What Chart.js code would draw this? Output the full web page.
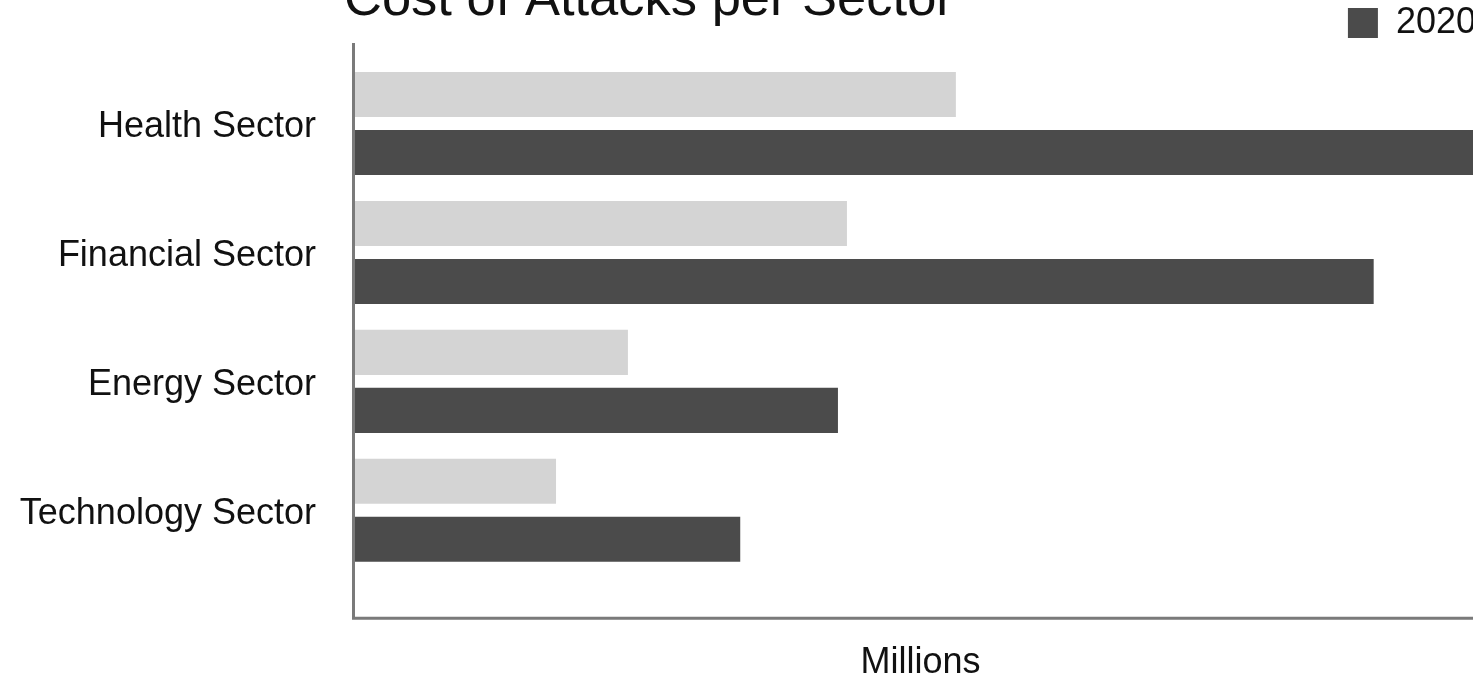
<!DOCTYPE html>
<html>
<head>
<meta charset="utf-8">
<script src="https://cdn.jsdelivr.net/npm/chart.js"></script>
<style>
  html, body { margin: 0; padding: 0; background: #fff; overflow: hidden; }
  #wrap { position: relative; width: 1473px; height: 692px; overflow: hidden; }
  #box { position: absolute; left: 0; top: -5px; width: 1486px; height: 697px; }
</style>
</head>
<body>
<div id="wrap"><div id="box"><canvas id="chart"></canvas></div></div>
<script>
// data
const sectors = ['Health Sector', 'Financial Sector', 'Energy Sector', 'Technology Sector'];
const values2019 = [5.35, 4.38, 2.43, 1.79];
const values2020 = [10.0, 9.07, 4.30, 3.43];
const seriesLabels = ['2019', '2020'];
const chartTitle = 'Cost of Attacks per Sector';
const axisTitle = 'Millions';

const FONT = '"Liberation Sans", Arial, Helvetica, sans-serif';
const lightGrey = '#d4d4d4';
const darkGrey = '#4b4b4b';
const axisGrey = '#7a7a7a';

// title + long axis lines drawn by hand
const decor = {
  id: 'decor',
  beforeDatasetsDraw(chart) {
    const ctx = chart.ctx;
    const a = chart.chartArea;
    ctx.save();
    ctx.strokeStyle = axisGrey;
    ctx.lineWidth = 3;
    ctx.beginPath();
    ctx.moveTo(a.left - 1.5, a.top - 16);
    ctx.lineTo(a.left - 1.5, a.bottom + 45);
    ctx.moveTo(a.left - 3, a.bottom + 43.5);
    ctx.lineTo(chart.width, a.bottom + 43.5);
    ctx.stroke();
    ctx.restore();
  },
  afterDraw(chart) {
    const ctx = chart.ctx;
    ctx.save();
    ctx.fillStyle = '#111';
    ctx.font = '52.5px ' + FONT;
    ctx.textAlign = 'left';
    ctx.textBaseline = 'alphabetic';
    ctx.fillText(chartTitle, chart.chartArea.left - 11, 20);
    ctx.restore();
  }
};

new Chart(document.getElementById('chart'), {
  type: 'bar',
  data: {
    labels: sectors,
    datasets: [
      { label: seriesLabels[0], data: values2019, backgroundColor: lightGrey },
      { label: seriesLabels[1], data: values2020, backgroundColor: darkGrey }
    ]
  },
  options: {
    indexAxis: 'y',
    responsive: true,
    maintainAspectRatio: false,
    animation: false,
    datasets: { bar: { categoryPercentage: 0.9, barPercentage: 0.776 } },
    plugins: {
      tooltip: { enabled: false },
      legend: {
        position: 'top',
        align: 'end',
        labels: {
          boxWidth: 30,
          boxHeight: 30,
          color: '#111',
          font: { size: 36, family: FONT },
          filter: item => item.text === '2020'
        }
      },
      // empty spacer between legend and plot
      subtitle: {
        display: true,
        text: '',
        weight: 500,
        font: { size: 5, lineHeight: 1 },
        padding: { top: 0, bottom: 3 }
      }
    },
    scales: {
      x: {
        min: 0,
        max: 10.07,
        grid: { display: false },
        border: { display: false },
        ticks: { display: false },
        title: {
          display: true,
          text: axisTitle,
          color: '#111',
          font: { size: 36, family: FONT },
          padding: { top: 59, bottom: 7 }
        }
      },
      y: {
        grid: { display: false },
        border: { display: false },
        afterFit: s => { s.width = 355; },
        ticks: {
          color: '#111',
          padding: 31,
          labelOffset: 4,
          font: { size: 36, family: FONT }
        }
      }
    }
  },
  plugins: [decor]
});
</script>
</body>
</html>
